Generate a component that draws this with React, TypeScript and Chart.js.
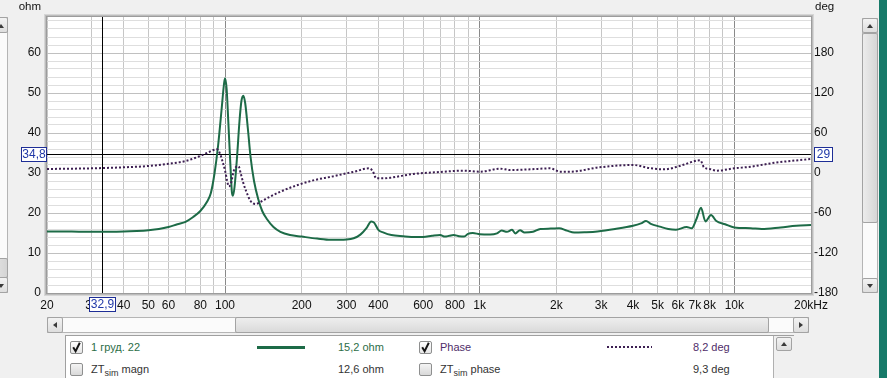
import React, { useEffect, useRef } from "react";
import { Chart, registerables } from "chart.js";

Chart.register(...registerables);

// ---------- data ----------
const impFreq = [
  20, 25, 30, 35, 40, 45, 50, 55, 60, 65, 70, 75, 80, 85, 88, 91, 94, 97, 99, 100,
  101.5, 103, 105, 106.5, 107.5, 109, 111.5, 114, 116, 118, 120, 123, 126, 130, 135,
  140, 146, 155, 165, 180, 200, 230, 260, 300, 320, 340, 360, 375, 385, 400, 420, 450,
  500, 560, 600, 650, 700, 730, 760, 790, 830, 870, 900, 940, 1000, 1100, 1170, 1220,
  1280, 1340, 1380, 1440, 1500, 1620, 1730, 1900, 2050, 2200, 2350, 2600, 2900, 3400,
  4000, 4300, 4500, 4700, 5100, 5500, 5900, 6500, 6800, 7100, 7400, 7700, 8100, 8500,
  9200, 10000, 11600, 12800, 15200, 17500, 20000,
];
const impOhm = [
  15.4, 15.35, 15.3, 15.3, 15.35, 15.5, 15.7, 16.0, 16.5, 17.2, 17.8, 19.0, 20.5, 22.8,
  25, 30, 37, 46, 52, 53.7, 51, 43, 32, 25, 24.3, 26.5, 34, 43, 48, 49.3, 47.5, 41, 34,
  28, 23.5, 20.5, 18.5, 16.5, 15.3, 14.5, 14.1, 13.6, 13.3, 13.4, 13.7, 14.6, 16.3,
  17.9, 17.6, 15.8, 15.1, 14.5, 14.2, 14.0, 14.0, 14.3, 14.5, 14.1, 14.3, 14.5, 14.2,
  14.1, 14.8, 15.0, 14.7, 14.6, 14.9, 15.6, 15.3, 15.8, 14.9, 15.7, 15.1, 15.3, 16.0,
  16.1, 16.2, 15.6, 15.1, 15.2, 15.4, 16.0, 16.8, 17.4, 18.0, 17.3, 16.6, 16.0, 15.8,
  16.5, 16.2, 18.5, 21.3, 17.9, 19.5, 18.0, 17.2, 16.4, 16.2, 16.0, 16.4, 16.8, 17.0,
];

const phaseFreq = [
  20, 30, 40, 50, 62, 70, 78, 85, 90, 93, 96, 98, 100, 102, 103.5, 105.5, 108, 110.5,
  113, 115.5, 118, 121, 126, 132, 140, 146, 165, 193, 225, 262, 300, 330, 350, 368, 380,
  393, 420, 448, 548, 697, 860, 1010, 1200, 1320, 1580, 1890, 2070, 2270, 2950, 4000,
  4700, 5300, 6100, 7100, 7350, 7600, 8000, 8500, 10000, 11600, 14500, 20000,
];
const phaseDeg = [
  6, 7, 8.5, 10.5, 14.5, 18, 24, 30, 34.5, 35.5, 27, 16, 4, -12, -20, -16, 2, 9, 10, -2,
  -15, -27, -42, -46.5, -42, -38, -28, -18, -10.5, -5.5, -0.5, 3, 6, 7, 3, -8, -8, -7,
  -1.5, 1.5, 3.5, 2, 6.5, 4.5, 5.5, 7, 2, 2, 8.5, 12, 7, 5.5, 10.5, 18.5, 19, 8.5, 6,
  3.5, 7, 9.5, 15.5, 21,
];

const xTickValues = [
  20, 30, 40, 50, 60, 70, 80, 90, 100, 200, 300, 400, 500, 600, 700, 800, 900, 1000,
  2000, 3000, 4000, 5000, 6000, 7000, 8000, 9000, 10000, 20000,
];
const xTickLabels: Record<number, string> = {
  20: "20", 30: "30", 40: "40", 50: "50", 60: "60", 80: "80", 100: "100",
  200: "200", 300: "300", 400: "400", 600: "600", 800: "800", 1000: "1k",
  2000: "2k", 3000: "3k", 4000: "4k", 5000: "5k", 6000: "6k", 7000: "7k",
  8000: "8k", 10000: "10k", 20000: "20kHz",
};
const decadeLines = [100, 1000, 10000];

const ohmMin = 0;
const ohmMax = 69;
const degMin = -180;
const degMax = 234;

const cursorFreq = 32.9;
const cursorOhm = 34.8;
const cursorDeg = 29;

const legendRows = [
  { name: "1 груд. 22", value: "15,2 ohm", checked: true, color: "#2d6e48", sub: false },
  { name: "magn", value: "12,6 ohm", checked: false, color: "#333333", sub: true },
];
const legendRows2 = [
  { name: "Phase", value: "8,2 deg", checked: true, color: "#4f2d69", sub: false },
  { name: "phase", value: "9,3 deg", checked: false, color: "#333333", sub: true },
];

const FONT = '"Liberation Sans", Arial, sans-serif';
const GREEN = "#1d6b47";
const PURPLE = "#3d1f52";
const CURSOR_BLUE = "#1e2e96";

const fmt = (v: number) => String(v).replace(".", ",");

const rewPlugin = {
  id: "rewPlugin",
  beforeDraw(chart: any) {
    const { ctx, chartArea: a } = chart;
    ctx.save();
    ctx.fillStyle = "#ffffff";
    ctx.fillRect(a.left, a.top, a.right - a.left, a.bottom - a.top);
    ctx.restore();
  },
  beforeDatasetsDraw(chart: any) {
    const { ctx, chartArea: a, scales } = chart;
    const cx = Math.round(scales.x.getPixelForValue(cursorFreq)) + 0.5;
    const cy = Math.round(scales.y.getPixelForValue(cursorOhm)) + 0.5;
    ctx.save();
    ctx.strokeStyle = "#000";
    ctx.lineWidth = 1;
    ctx.beginPath();
    ctx.moveTo(cx, a.top);
    ctx.lineTo(cx, a.bottom);
    ctx.moveTo(a.left, cy);
    ctx.lineTo(a.right, cy);
    ctx.stroke();
    ctx.restore();
  },
  afterDraw(chart: any) {
    const { ctx, chartArea: a, scales } = chart;
    ctx.save();
    // bevel frame around plot
    const cols = ["#9c9c9c", "#bcbcbc", "#d6d6d6"];
    cols.forEach((c, i) => {
      ctx.strokeStyle = c;
      ctx.lineWidth = 1;
      ctx.strokeRect(a.left - 0.5 - i, a.top - 0.5 - i, a.right - a.left + 1 + 2 * i, a.bottom - a.top + 1 + 2 * i);
    });
    // axis unit titles
    ctx.fillStyle = "#111";
    ctx.font = `11.5px ${FONT}`;
    ctx.textBaseline = "middle";
    ctx.textAlign = "right";
    ctx.fillText("ohm", 41, 7);
    ctx.textAlign = "left";
    ctx.fillText("deg", 815, 7);

    // cursor value boxes
    const cx = Math.round(scales.x.getPixelForValue(cursorFreq));
    const cy = Math.round(scales.y.getPixelForValue(cursorOhm));
    const box = (x: number, y: number, w: number, h: number, t: string) => {
      ctx.fillStyle = "#ffffff";
      ctx.fillRect(x, y, w, h);
      ctx.strokeStyle = CURSOR_BLUE;
      ctx.lineWidth = 1;
      ctx.strokeRect(x + 0.5, y + 0.5, w - 1, h - 1);
      ctx.fillStyle = "#2038a8";
      ctx.font = `12px ${FONT}`;
      ctx.textAlign = "center";
      ctx.textBaseline = "middle";
      ctx.fillText(t, x + w / 2, y + h / 2 + 0.5);
    };
    box(cx - 13, a.bottom + 4, 27, 15, fmt(cursorFreq));
    box(21, cy - 7, 26, 15, fmt(cursorOhm));
    box(a.right + 3, cy - 7, 19, 15, fmt(cursorDeg));
    ctx.restore();
  },
};

const btn: React.CSSProperties = {
  position: "absolute",
  boxSizing: "border-box",
  border: "1px solid #a3a3a3",
  borderRadius: 2,
  background: "linear-gradient(#f3f3f3, #dedede)",
};

const Tri = ({ dir }: { dir: "up" | "down" | "left" | "right" }) => {
  const s: React.CSSProperties = { position: "absolute", width: 0, height: 0, left: "50%", top: "50%" };
  if (dir === "up") Object.assign(s, { borderLeft: "3.5px solid transparent", borderRight: "3.5px solid transparent", borderBottom: "4px solid #3a3a3a", marginLeft: -3.5, marginTop: -2 });
  if (dir === "down") Object.assign(s, { borderLeft: "3.5px solid transparent", borderRight: "3.5px solid transparent", borderTop: "4px solid #3a3a3a", marginLeft: -3.5, marginTop: -2 });
  if (dir === "left") Object.assign(s, { borderTop: "3.5px solid transparent", borderBottom: "3.5px solid transparent", borderRight: "4px solid #3a3a3a", marginLeft: -2, marginTop: -3.5 });
  if (dir === "right") Object.assign(s, { borderTop: "3.5px solid transparent", borderBottom: "3.5px solid transparent", borderLeft: "4px solid #3a3a3a", marginLeft: -2, marginTop: -3.5 });
  return <div style={s} />;
};

const Check = ({ left, top, checked }: { left: number; top: number; checked: boolean }) => (
  <div
    style={{
      position: "absolute", left, top, width: 13, height: 13, boxSizing: "border-box",
      border: "1px solid #8e8f8f", borderRadius: 2,
      background: checked ? "linear-gradient(#ffffff, #e6e6e6)" : "linear-gradient(#f4f4f4, #d9d9d9)",
    }}
  >
    {checked && (
      <svg width="13" height="13" style={{ position: "absolute", left: -1, top: -1 }}>
        <path d="M3.2 6.2 L5.6 10.2 L9.8 1.8" stroke="#151515" strokeWidth="2" fill="none" />
      </svg>
    )}
  </div>
);

const Label = ({ left, top, color, children }: any) => (
  <div style={{ position: "absolute", left, top, fontSize: 11, lineHeight: "14px", color, whiteSpace: "nowrap", fontFamily: FONT }}>
    {children}
  </div>
);

const NameText = ({ row }: any) =>
  row.sub ? (
    <span>
      ZT<sub style={{ fontSize: 9, verticalAlign: -3, lineHeight: 0 }}>sim</sub> {row.name}
    </span>
  ) : (
    <span>{row.name}</span>
  );

export default function App() {
  const ref = useRef<HTMLCanvasElement | null>(null);

  useEffect(() => {
    if (!ref.current) return;
    const chart = new Chart(ref.current, {
      type: "line",
      data: {
        datasets: [
          {
            label: "Phase",
            data: phaseFreq.map((f, i) => ({ x: f, y: phaseDeg[i] })),
            yAxisID: "y2",
            borderColor: PURPLE,
            borderWidth: 2,
            borderDash: [2, 2],
            pointRadius: 0,
            cubicInterpolationMode: "monotone",
            fill: false,
          },
          {
            label: "1 груд. 22",
            data: impFreq.map((f, i) => ({ x: f, y: impOhm[i] })),
            yAxisID: "y",
            borderColor: GREEN,
            borderWidth: 2,
            pointRadius: 0,
            cubicInterpolationMode: "monotone",
            fill: false,
          },
        ],
      },
      options: {
        animation: false,
        responsive: false,
        maintainAspectRatio: false,
        devicePixelRatio: 1,
        layout: { padding: { top: 17, left: 0, right: 0, bottom: 0 } },
        plugins: { legend: { display: false }, tooltip: { enabled: false } },
        events: [],
        scales: {
          x: {
            type: "logarithmic",
            position: "bottom",
            min: 20,
            max: 20000,
            afterBuildTicks: (s: any) => {
              s.ticks = xTickValues.map((v) => ({ value: v }));
            },
            afterFit: (s: any) => {
              s.height = 25;
            },
            ticks: {
              autoSkip: false,
              maxRotation: 0,
              minRotation: 0,
              padding: 5,
              color: "#111",
              font: { family: FONT, size: 12 },
              callback: (v: any) => xTickLabels[Number(v)] ?? "",
            },
            grid: {
              drawTicks: false,
              color: (c: any) => (c.tick && decadeLines.includes(c.tick.value) ? "#8a8a8a" : "#c6c6c6"),
            },
            border: { display: false },
          },
          y: {
            type: "linear",
            position: "left",
            min: ohmMin,
            max: ohmMax,
            afterFit: (s: any) => {
              s.width = 47;
            },
            ticks: {
              stepSize: 2,
              autoSkip: false,
              includeBounds: false,
              padding: 6,
              color: "#111",
              font: { family: FONT, size: 12 },
              callback: (v: any) => (Math.round(Number(v)) % 10 === 0 ? String(v) : ""),
            },
            grid: {
              drawTicks: false,
              color: (c: any) => (c.tick && Math.round(c.tick.value) % 10 === 0 ? "#c0c0c0" : "#dedede"),
            },
            border: { display: false },
          },
          y2: {
            type: "linear",
            position: "right",
            min: degMin,
            max: degMax,
            afterFit: (s: any) => {
              s.width = 76;
            },
            ticks: {
              stepSize: 60,
              autoSkip: false,
              includeBounds: false,
              padding: 3,
              color: "#111",
              font: { family: FONT, size: 12 },
              callback: (v: any) => String(v),
            },
            grid: { display: false, drawTicks: false },
            border: { display: false },
          },
        },
      } as any,
      plugins: [rewPlugin],
    });
    return () => chart.destroy();
  }, []);

  return (
    <div
      style={{
        position: "fixed", left: 0, top: 0, width: 887, height: 378, overflow: "hidden",
        background: "#f0f0f0", fontFamily: FONT,
      }}
    >
      <canvas ref={ref} width={887} height={318} style={{ position: "absolute", left: 0, top: 0, display: "block", width: 887, height: 318 }} />

      {/* left vertical scrollbar (partly off-screen) */}
      <div style={{ position: "absolute", left: -9, top: 17, width: 17, height: 276, background: "#fbfbfb", border: "1px solid #b5b5b5", boxSizing: "border-box" }} />
      <div style={{ ...btn, left: -9, top: 17, width: 17, height: 16 }}><div style={{ position: "absolute", left: 9, top: 8 }}><Tri dir="up" /></div></div>
      <div style={{ ...btn, left: -9, top: 258, width: 17, height: 20, background: "linear-gradient(to right, #e6e6e6, #d4d4d4)" }} />
      <div style={{ ...btn, left: -9, top: 277, width: 17, height: 16 }}><div style={{ position: "absolute", left: 9, top: 8 }}><Tri dir="down" /></div></div>

      {/* right vertical scrollbar */}
      <div style={{ position: "absolute", left: 862, top: 18, width: 16, height: 275, background: "#fbfbfb", border: "1px solid #b5b5b5", boxSizing: "border-box" }} />
      <div style={{ ...btn, left: 862, top: 18, width: 16, height: 15 }}><Tri dir="up" /></div>
      <div style={{ ...btn, left: 862, top: 33, width: 16, height: 190, background: "linear-gradient(to right, #ececec, #d6d6d6)" }} />
      <div style={{ ...btn, left: 862, top: 278, width: 16, height: 15 }}><Tri dir="down" /></div>

      {/* teal window edge */}
      <div style={{ position: "absolute", left: 879, top: 0, width: 8, height: 378, background: "#167a69" }} />

      {/* horizontal scrollbar */}
      <div style={{ position: "absolute", left: 47, top: 317, width: 762, height: 16, background: "#fbfbfb", border: "1px solid #b5b5b5", boxSizing: "border-box" }} />
      <div style={{ ...btn, left: 47, top: 317, width: 16, height: 16 }}><Tri dir="left" /></div>
      <div style={{ ...btn, left: 235, top: 317, width: 534, height: 16, background: "linear-gradient(#eeeeee, #dadada)" }} />
      <div style={{ ...btn, left: 793, top: 317, width: 16, height: 16 }}><Tri dir="right" /></div>

      {/* legend panel */}
      <div style={{ position: "absolute", left: 65, top: 335, width: 729, height: 60, background: "#ffffff", border: "1px solid #a0a0a0", boxSizing: "border-box" }} />
      <div style={{ position: "absolute", left: 773, top: 336, width: 20, height: 50, background: "#f0f0f0", borderLeft: "1px solid #b0b0b0" }} />
      <div style={{ ...btn, left: 776, top: 337, width: 16, height: 14 }}><Tri dir="up" /></div>

      {legendRows.map((r, i) => {
        const top = 340 + i * 22;
        return (
          <React.Fragment key={"a" + i}>
            <Check left={70} top={top + 1} checked={r.checked} />
            <Label left={91} top={top} color={r.color}><NameText row={r} /></Label>
            <Label left={338} top={top} color={r.color}>{r.value}</Label>
          </React.Fragment>
        );
      })}
      {legendRows2.map((r, i) => {
        const top = 340 + i * 22;
        return (
          <React.Fragment key={"b" + i}>
            <Check left={419} top={top + 1} checked={r.checked} />
            <Label left={440} top={top} color={r.color}><NameText row={r} /></Label>
            <Label left={693} top={top} color={r.color}>{r.value}</Label>
          </React.Fragment>
        );
      })}
      <div style={{ position: "absolute", left: 257, top: 346, width: 48, height: 3, background: GREEN }} />
      <div style={{ position: "absolute", left: 607, top: 346, width: 45, height: 2, background: `repeating-linear-gradient(to right, ${PURPLE} 0 2px, transparent 2px 4px)` }} />
    </div>
  );
}
